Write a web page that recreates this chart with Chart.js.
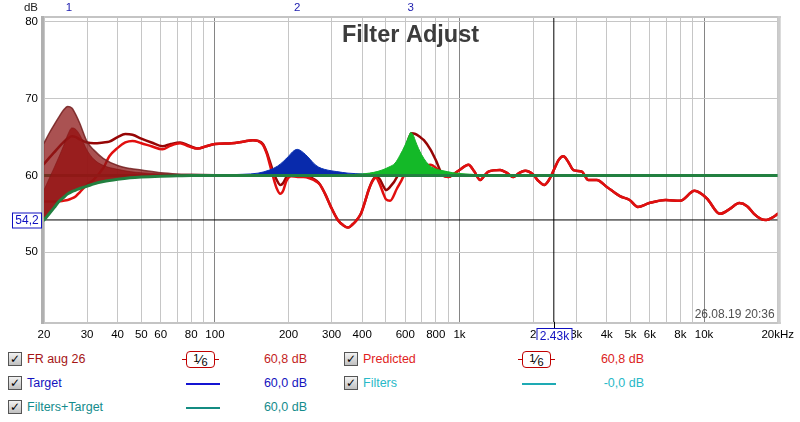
<!DOCTYPE html>
<html><head><meta charset="utf-8">
<script src="https://cdn.jsdelivr.net/npm/chart.js@4.4.1/dist/chart.umd.min.js"></script>
<style>
html,body{margin:0;padding:0;background:#fff;width:800px;height:422px;overflow:hidden;font-family:"Liberation Sans",Arial,sans-serif;}
#wrap{position:absolute;left:0;top:0;width:800px;height:340px;}
.lg{position:absolute;font-size:12.5px;line-height:14px;white-space:nowrap;}
.cb{position:absolute;width:12px;height:12px;border:1px solid #555;background:linear-gradient(#f2f2f2,#c0c0c0);font-size:12px;line-height:12px;text-align:center;color:#000;font-weight:bold;font-family:"DejaVu Sans",sans-serif;}
.sm{position:absolute;height:15px;width:27px;border:1px solid #c00000;border-radius:4px;background:#fff;font-size:11px;line-height:15px;text-align:center;color:#000;}
.stub{position:absolute;height:1px;background:#c00000;}
.ln{position:absolute;height:1px;}
.val{position:absolute;text-align:right;width:90px;font-size:12.5px;line-height:14px;}
</style>
</head><body>
<div id="wrap"><canvas id="c"></canvas></div>
<div id="legend"></div>
<script>
// ---------- data ----------
const frFreq = [20,21,22,23,24,25,26,27,28,30,32,35,37,40,43,46,50,55,61,66,72,78,85,92,100,117,130,143,150,157,163,167,173,179,185,190,196,205,218,230,245,260,269,283,297,318,335,350,365,380,395,410,425,440,455,470,490,500,520,555,580,600,620,636,660,690,715,760,800,845,900,950,1000,1088,1150,1214,1260,1313,1466,1550,1662,1750,1855,2003,2100,2220,2320,2430,2540,2660,2780,2924,3163,3366,3640,4003,4527,4961,5356,5970,6958,7981,9146,10268,11600,12700,13940,15000,16000,17140,17940,19000,20000];
const frMeasured = [61.5,62.3,63.0,63.7,64.3,64.8,65.1,65.0,64.7,64.3,
64.2,64.3,64.4,65.0,65.4,65.3,64.8,64.3,63.8,64.1,
64.3,63.9,63.5,63.8,64.1,64.2,64.4,64.6,64.5,64.1,
63.0,62.0,60.5,59.4,58.75,59.0,59.8,60.3,60.5,60.3,
59.8,59.3,58.8,57.5,56.0,54.2,53.5,53.2,53.6,54.2,
55.0,56.5,58.1,59.3,59.8,59.6,58.5,58.1,58.5,59.8,
61.5,63.2,64.8,65.5,65.4,65.0,64.6,63.4,62.0,60.3,
59.8,60.2,
60.7,61.4,60.5,59.4,59.9,60.5,60.7,60.4,59.8,60.3,
60.6,60.1,59.3,58.75,59.4,60.7,62.0,62.5,61.8,60.7,
60.5,59.4,59.4,58.5,57.3,56.8,55.9,56.4,56.8,56.7,
58.0,57.0,55.0,55.6,56.4,56.0,55.0,54.3,54.2,54.5,
55.0];
const frPredicted = [56.6,56.6,56.6,56.6,56.7,56.8,57.0,57.3,57.8,58.8,
59.5,61.0,62.5,63.6,64.3,64.5,64.2,63.8,63.4,63.9,
64.2,63.8,63.5,63.8,64.1,64.2,64.4,64.6,64.5,64.0,
62.8,61.6,59.8,58.3,57.6,58.0,59.3,59.9,59.8,59.8,
59.6,59.2,58.8,57.5,56.0,54.2,53.5,53.2,53.6,54.2,
55.0,56.5,58.1,59.2,59.7,59.0,57.5,56.9,56.7,58.3,
59.4,60.3,60.6,60.8,60.9,61.1,61.2,61.4,61.0,60.1,
59.8,60.2,
60.7,61.4,60.5,59.4,59.9,60.5,60.7,60.4,59.8,60.3,
60.6,60.1,59.3,58.75,59.4,60.7,62.0,62.5,61.8,60.7,
60.5,59.4,59.4,58.5,57.3,56.8,55.9,56.4,56.8,56.7,
58.0,57.0,55.0,55.6,56.4,56.0,55.0,54.3,54.2,54.5,
55.0];

const lowFreq = [20,21,22,23,24,25,26,27,28,30,32,35,40,45,50,60,70,80,100,130,160,200];
const filtersTargetLow = [54.2,55.0,55.8,56.6,57.1,57.6,57.9,58.1,58.3,58.6,58.9,59.2,59.5,59.7,59.8,59.9,59.95,60,60,60,60,60];
const filter1Upper = [64.2,65.5,66.6,67.6,68.5,69.0,68.8,67.9,66.8,64.4,63.3,62.2,61.3,60.9,60.7,60.35,60.2,60.15,60.08,60.03,60.0,60.0];
const filter1Lower = [58.1,59.6,61.0,62.4,63.8,65.3,66.2,66.0,65.3,63.3,62.1,61.3,60.8,60.5,60.35,60.2,60.1,60.06,60.03,60.01,60.0,60.0];
const filter2Freq = [100,130,150,167,180,190,200,208,217,225,235,245,253,265,280,300,315,350,400,500];
const filter2Db = [60.05,60.15,60.3,60.7,61.2,61.8,62.5,63.1,63.4,63.2,62.7,62.1,61.6,61.1,60.8,60.6,60.5,60.3,60.2,60.05];
const filter3Freq = [300,400,460,515,545,570,600,620,632,650,660,680,700,730,760,800,830,890,940,1000,1200];
const filter3Db = [60.05,60.2,60.5,61.1,61.6,62.6,64.0,65.1,65.6,65.1,64.5,63.5,62.7,61.8,61.2,60.85,60.7,60.5,60.35,60.25,60.1];
const targetFreq = [20,20000];
const targetDb = [60,60];

const filterFreqs = [25.3, 217, 632];
const filterLabels = ['1','2','3'];
const cursorFreq = 2430, cursorLevel = 54.2;
const cursorFreqText = '2,43k', cursorLevelText = '54,2';

const xTickVals = [20,30,40,50,60,70,80,90,100,200,300,400,500,600,700,800,900,1000,2000,3000,4000,5000,6000,7000,8000,9000,10000,20000];
const xTickText = {20:'20',30:'30',40:'40',50:'50',60:'60',80:'80',100:'100',200:'200',300:'300',400:'400',600:'600',800:'800',1000:'1k',2000:'2',3000:'3k',4000:'4k',5000:'5k',6000:'6k',8000:'8k',10000:'10k',20000:'20kHz'};
const yTickVals = [50,60,70,80];

const titleText = 'Filter Adjust';
const dateText = '26.08.19 20:36';
const seriesNames = ['FR aug 26','Predicted','Target','Filters','Filters+Target'];
const seriesValues = ['60,8 dB','60,8 dB','60,0 dB','-0,0 dB','60,0 dB'];

// ---------- helpers ----------
const pts = (xs, ys) => xs.map((x,i)=>({x:x, y:ys[i]}));
const greenF = lowFreq.concat([20000]);
const greenDb = filtersTargetLow.concat([60]);

Chart.defaults.font.family = "'Liberation Sans', Arial, sans-serif";

const decor = {
  id: 'decor',
  afterDraw(chart) {
    const {ctx, chartArea: a, scales: {x, y}} = chart;
    ctx.save();
    // frame
    ctx.fillStyle = '#c4c4c4';
    ctx.fillRect(a.left - 3, a.top - 2, a.right - a.left + 6, 2);
    ctx.fillRect(a.left - 3, a.bottom, a.right - a.left + 6, 2);
    ctx.fillStyle = '#b0b0b0';
    ctx.fillRect(a.left - 3, a.top - 2, 3, a.bottom - a.top + 4);
    ctx.fillStyle = '#cccccc';
    ctx.fillRect(a.right, a.top - 2, 3, a.bottom - a.top + 4);
    // cursor extension + boxes
    const cx = Math.round(x.getPixelForValue(cursorFreq)) + 0.5;
    ctx.strokeStyle = '#000'; ctx.lineWidth = 1;
    ctx.beginPath(); ctx.moveTo(cx, a.bottom); ctx.lineTo(cx, a.bottom + 6); ctx.stroke();
    ctx.font = "12px 'Liberation Sans', Arial, sans-serif";
    ctx.textBaseline = 'middle'; ctx.textAlign = 'center';
    let w = 35, h = 15;
    ctx.fillStyle = '#fff';
    ctx.fillRect(cx - w/2, a.bottom + 6, w, h);
    ctx.strokeStyle = '#1010c0';
    ctx.strokeRect(cx - w/2, a.bottom + 6.5, w, h);
    ctx.fillStyle = '#1010c0';
    ctx.fillText(cursorFreqText, cx, a.bottom + 14.5);
    const cy = Math.round(y.getPixelForValue(cursorLevel)) + 0.5;
    w = 29; h = 15;
    ctx.fillStyle = '#fff';
    ctx.fillRect(a.left - 3 - w, cy - 7.5, w, h);
    ctx.strokeStyle = '#1010c0';
    ctx.strokeRect(a.left - 2.5 - w, cy - 7.5, w, h);
    ctx.fillStyle = '#1010c0';
    ctx.fillText(cursorLevelText, a.left - 2.5 - w/2, cy + 0.5);
    // filter numbers
    ctx.font = "11.5px 'Liberation Sans', Arial, sans-serif";
    ctx.textBaseline = 'alphabetic';
    ctx.fillStyle = '#2020b0';
    filterFreqs.forEach((f, i) => ctx.fillText(filterLabels[i], x.getPixelForValue(f), 11));
    ctx.fillStyle = '#202020';
    ctx.fillText('dB', 31, 11);
    // title
    ctx.font = "bold 23.5px 'Liberation Sans', Arial, sans-serif";
    ctx.fillStyle = '#3c3c3c';
    ctx.textAlign = 'center';
    ctx.fillText(titleText, 410.5, 42);
    // date
    ctx.font = "12px 'Liberation Sans', Arial, sans-serif";
    ctx.fillStyle = '#505050';
    ctx.textAlign = 'right';
    ctx.fillText(dateText, a.right - 3, a.bottom - 4);
    ctx.restore();
  }
};

const GREEN = 'rgb(34,128,64)';
new Chart(document.getElementById('c'), {
  type: 'line',
  data: {
    datasets: [
      { label: seriesNames[4], data: pts(greenF, greenDb), borderColor: GREEN, borderWidth: 3, fill: false, cubicInterpolationMode: 'monotone' },
      { label: 'Filter 3', data: pts(filter3Freq, filter3Db), borderColor: 'rgb(20,178,40)', borderWidth: 1, backgroundColor: 'rgb(20,185,40)', fill: {value: 60}, cubicInterpolationMode: 'monotone' },
      { label: 'Filter 2', data: pts(filter2Freq, filter2Db), borderColor: 'rgb(10,50,180)', borderWidth: 1, backgroundColor: 'rgb(8,42,172)', fill: {value: 60}, cubicInterpolationMode: 'monotone' },
      { label: 'Filter 1b', data: pts(lowFreq, filter1Lower), borderColor: 'rgba(130,20,20,0.6)', borderWidth: 1, backgroundColor: 'rgba(150,20,20,0.82)', fill: 0, cubicInterpolationMode: 'monotone' },
      { label: 'Filter 1a', data: pts(lowFreq, filter1Upper), borderColor: 'rgba(115,30,30,0.85)', borderWidth: 1.5, backgroundColor: 'rgba(142,24,24,0.75)', fill: 0, cubicInterpolationMode: 'monotone' },
      { label: seriesNames[2], data: pts(targetFreq, targetDb), borderColor: GREEN, borderWidth: 3, fill: false },
      { label: seriesNames[1], data: pts(frFreq, frPredicted), borderColor: 'rgb(225,15,15)', borderWidth: 2.5, fill: false, cubicInterpolationMode: 'monotone' },
      { label: seriesNames[0], data: pts(frFreq, frMeasured), borderColor: 'rgb(150,5,5)', borderWidth: 2.5, fill: false, cubicInterpolationMode: 'monotone' },
      { label: 'cursorH', data: pts([20,20000],[cursorLevel,cursorLevel]), borderColor: '#000', borderWidth: 1, fill: false },
      { label: 'cursorV', data: pts([cursorFreq,cursorFreq],[40.9,80.52]), borderColor: '#000', borderWidth: 1, fill: false }
    ]
  },
  options: {
    responsive: true, maintainAspectRatio: false, animation: false,
    layout: { padding: { left: 0, right: 22, top: 18, bottom: 0 } },
    elements: { point: { radius: 0 }, line: { borderCapStyle: 'round', borderJoinStyle: 'round' } },
    plugins: { legend: { display: false }, tooltip: { enabled: false }, title: { display: false } },
    scales: {
      x: {
        type: 'logarithmic', min: 20, max: 20000,
        afterBuildTicks: s => { s.ticks = xTickVals.map(v => ({value: v})); },
        afterFit: s => { s.height = 18; },
        ticks: { autoSkip: false, maxRotation: 0, padding: 6, color: '#000', font: { size: 11.5 },
                 callback: v => xTickText[v] || '' },
        grid: { drawTicks: false, color: c => (c.tick && [100,1000,10000].includes(c.tick.value)) ? '#858585' : '#c6c6c6', lineWidth: 1 },
        border: { display: false }
      },
      y: {
        min: 40.9, max: 80.52,
        afterBuildTicks: s => { s.ticks = yTickVals.map(v => ({value: v})); },
        afterFit: s => { s.width = 44; },
        ticks: { padding: 6, color: '#000', font: { size: 11.5 } },
        grid: { drawTicks: false, color: '#c6c6c6' },
        border: { display: false }
      }
    }
  },
  plugins: [decor]
});

// ---------- legend (HTML) ----------
const legendItems = [
  {i:0, col:0, row:0, color:'rgb(165,20,20)', valColor:'rgb(195,30,30)', mark:'smooth'},
  {i:1, col:1, row:0, color:'rgb(225,30,30)', valColor:'rgb(220,35,35)', mark:'smooth'},
  {i:2, col:0, row:1, color:'rgb(20,20,190)', valColor:'rgb(20,20,190)', mark:'line', lineColor:'rgb(20,20,210)'},
  {i:3, col:1, row:1, color:'rgb(40,185,200)', valColor:'rgb(40,185,200)', mark:'line', lineColor:'rgb(30,170,180)'},
  {i:4, col:0, row:2, color:'rgb(20,140,140)', valColor:'rgb(20,140,140)', mark:'line', lineColor:'rgb(20,140,130)'}
];
const colX = [{cb:8, name:27, mark:182, val:307}, {cb:344, name:363, mark:518, val:644}];
const rowY = [359, 383, 407];
const lg = document.getElementById('legend');
let html = '';
legendItems.forEach(it => {
  const c = colX[it.col], yc = rowY[it.row];
  html += `<div class="cb" style="left:${c.cb}px;top:${yc-7}px">✓</div>`;
  html += `<div class="lg" style="left:${c.name}px;top:${yc-7}px;color:${it.color}">${seriesNames[it.i]}</div>`;
  if (it.mark === 'smooth') {
    html += `<div class="stub" style="left:${c.mark}px;top:${yc}px;width:37px"></div>`;
    html += `<div class="sm" style="left:${c.mark+4}px;top:${yc-8}px"><span style="position:relative;top:-2px;font-size:11px">1</span><span style="font-size:13px">⁄</span><span style="position:relative;top:2px;font-size:11px">6</span></div>`;
  } else {
    html += `<div class="ln" style="left:${c.mark+4}px;top:${yc}px;width:34px;height:1.5px;background:${it.lineColor}"></div>`;
  }
  html += `<div class="val" style="left:${c.val-90}px;top:${yc-7}px;color:${it.valColor}">${seriesValues[it.i]}</div>`;
});
lg.innerHTML = html;
</script>
</body></html>
